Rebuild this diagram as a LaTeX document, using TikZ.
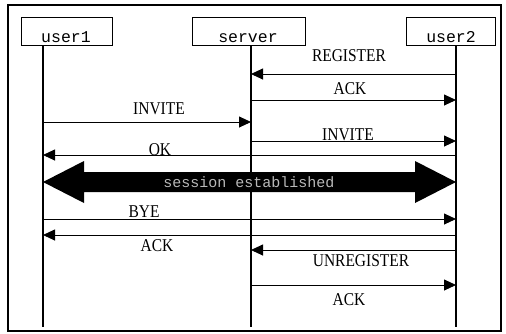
\documentclass[tikz,border=0pt]{standalone}
\usepackage{fontspec}
\usepackage{graphicx}
\setmainfont{Liberation Serif}
\newfontfamily\monof{Liberation Mono}
\newcommand{\condtxt}[1]{\scalebox{0.86}[1]{#1}}
\usetikzlibrary{arrows.meta}
\begin{document}
\begin{tikzpicture}[x=1pt,y=-1pt,
  actorbox/.style={draw,line width=0.9pt,inner sep=0pt,minimum width=#1,minimum height=28pt},
  actortext/.style={font=\monof\fontsize{16.5}{16.5}\selectfont,inner sep=0pt,anchor=base},
  lifeline/.style={line width=1.3pt},
  msg/.style={-{Triangle[length=12pt,width=11pt]},line width=0.9pt},
  lbl/.style={font=\fontsize{18}{18}\selectfont,inner sep=0pt}]
\useasboundingbox (0,0) rectangle (506,333);
\draw[line width=1.1pt] (8,5) rectangle (501,331);
% actors
\node[actorbox=91pt] (b1) at (66.5,31) {};
\node[actorbox=113pt] (b2) at (248.5,31) {};
\node[actorbox=89pt] (b3) at (450.5,31) {};
\node[actortext] (t1) at (66,42) {user1};
\node[actortext] (t2) at (248,42) {server};
\node[actortext] (t3) at (451,42) {user2};
% lifelines
\coordinate (l1top) at (43,45); \coordinate (l1bot) at (43,327);
\coordinate (l2top) at (251,45); \coordinate (l2bot) at (251,327);
\coordinate (l3top) at (456,45); \coordinate (l3bot) at (456,327);
\draw[lifeline] (l1top) -- (l1bot);
\draw[lifeline] (l2top) -- (l2bot);
\draw[lifeline] (l3top) -- (l3bot);
% message end points
\foreach \n/\y in {a/74,b/100,c/122,d/141,e/155,f/182,g/219,h/235,i/250,j/285}{
  \coordinate (u1\n) at (43,\y);
  \coordinate (sv\n) at (251,\y);
  \coordinate (u2\n) at (456,\y);
}
% messages
\draw[msg] (u2a) -- (sva);
\node[lbl] (mREG) at (349,56) {\condtxt{REGISTER}};
\draw[msg] (svb) -- (u2b);
\node[lbl] (mACK1) at (350,89) {\condtxt{ACK}};
\draw[msg] (u1c) -- (svc);
\node[lbl] (mINV1) at (159,109) {\condtxt{INVITE}};
\draw[msg] (svd) -- (u2d);
\node[lbl] (mINV2) at (348,134.5) {\condtxt{INVITE}};
\draw[msg] (u2e) -- (u1e);
\node[lbl] (mOK) at (160,149.5) {\condtxt{OK}};
% session established
\fill (u1f) -- (84,161) -- (84,172) -- (415,172) -- (415,161) -- (u2f)
  -- (415,203) -- (415,192) -- (84,192) -- (84,203) -- cycle;
\node[font=\monof\fontsize{15}{15}\selectfont,text=gray!55,inner sep=0pt] (sess) at (249,182.5) {session established};
\draw[msg] (u1g) -- (u2g);
\node[lbl] (mBYE) at (144,212) {\condtxt{BYE}};
\draw[msg] (u2h) -- (u1h);
\node[lbl] (mACK2) at (157,246) {\condtxt{ACK}};
\draw[msg] (u2i) -- (svi);
\node[lbl] (mUNREG) at (361,261) {\condtxt{UNREGISTER}};
\draw[msg] (svj) -- (u2j);
\node[lbl] (mACK3) at (349,299.5) {\condtxt{ACK}};
\end{tikzpicture}
\end{document}
